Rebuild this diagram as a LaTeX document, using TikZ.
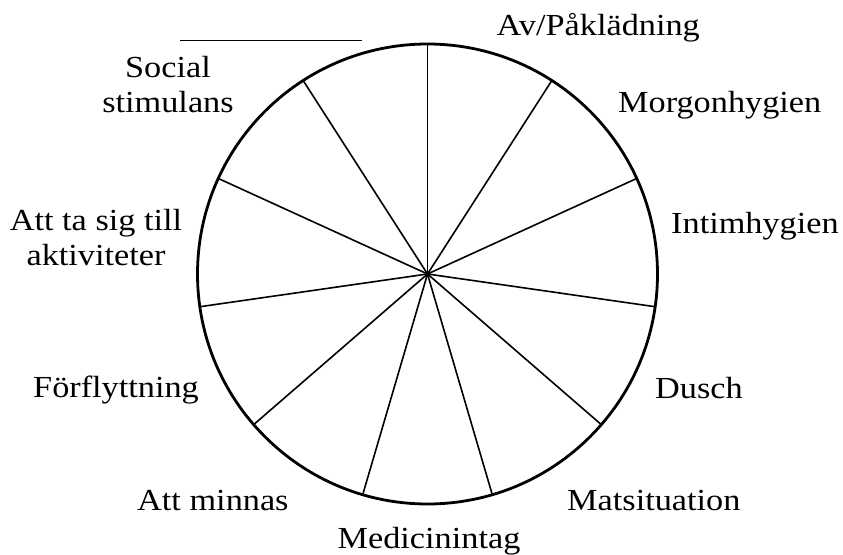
\documentclass[tikz,border=0pt]{standalone}
\usepackage{fontspec}
\setmainfont{Liberation Serif}[FakeStretch=1.12]
\usetikzlibrary{calc}
\begin{document}
\begin{tikzpicture}[x=1pt,y=-1pt,
  lbl/.style={inner sep=0pt,font=\fontsize{30.6}{35}\selectfont},
  rim/.style={line width=2.8pt,black},
  spoke/.style={line width=1.6pt,black}]
\useasboundingbox (0,0) rectangle (843,554);
\coordinate (c) at (427.5,274);
\def\R{230}
\foreach \i in {0,...,10}{
  \coordinate (p\i) at ($(c)+({90-\i*360/11}:{\R} and {-\R})$);
}
\foreach \i in {0,...,10}{
  \draw[spoke] (c) -- (p\i);
}
\draw[rim] (c) circle[radius=\R];
% labels
\node[lbl,anchor=base east] (l0) at (700,35) {Av/Påklädning};
\node[lbl,anchor=base west] (l1) at (618,112) {Morgonhygien};
\node[lbl,anchor=base west] (l2) at (671,233) {Intimhygien};
\node[lbl,anchor=base west] (l3) at (655,398) {Dusch};
\node[lbl,anchor=base west] (l4) at (567,510) {Matsituation};
\node[lbl,anchor=base] (l5) at (429,548) {Medicinintag};
\node[lbl,anchor=base west] (l6) at (137,510) {Att minnas};
\node[lbl,anchor=base west] (l7) at (33,397) {Förflyttning};
\node[lbl,anchor=base] (l8a) at (96,230) {Att ta sig till};
\node[lbl,anchor=base] (l8b) at (96,265) {aktiviteter};
\node[lbl,anchor=base] (l9a) at (168,77) {Social};
\node[lbl,anchor=base] (l9b) at (168,112) {stimulans};
\coordinate (ul1) at (180,40);
\coordinate (ul2) at (362,40);
\draw[line width=1pt] (ul1) -- (ul2);
\end{tikzpicture}
\end{document}
